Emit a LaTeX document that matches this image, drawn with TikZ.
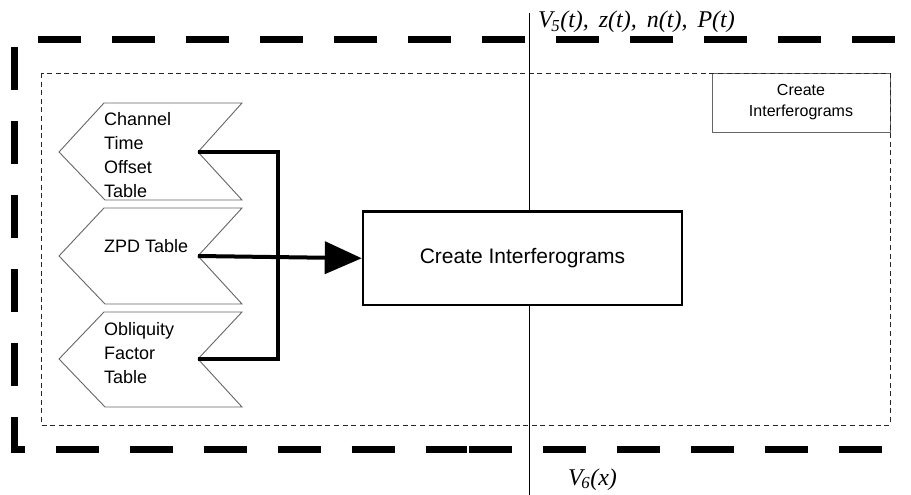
\documentclass[tikz,border=0pt]{standalone}
\usepackage{fontspec}
\setmainfont{Liberation Sans}
\newfontfamily\tnr{Liberation Serif}
\usetikzlibrary{arrows.meta}
\begin{document}
\begin{tikzpicture}[x=1pt,y=-1pt,
  thickdash/.style={line width=7pt, dash pattern=on 43pt off 31pt, line cap=butt, line join=miter},
  thindash/.style={line width=0.8pt, dash pattern=on 5pt off 3.6pt, draw=black!85},
  chev/.style={draw=black!60, line width=0.9pt, fill=white},
  chevtext/.style={anchor=north west, inner sep=0pt, align=left, font=\fontsize{18}{24}\selectfont},
  conn/.style={line width=4pt, line join=miter},
  mainbox/.style={draw, line width=2.5pt, fill=white, minimum width=319pt, minimum height=93.5pt, inner sep=0pt, font=\fontsize{21}{25}\selectfont},
  smallbox/.style={draw=black!60, line width=0.9pt, fill=white, minimum width=178pt, minimum height=59pt, inner sep=0pt, align=center, font=\fontsize{16}{21}\selectfont},
  lab/.style={inner sep=0pt, font=\tnr\itshape\fontsize{24}{24}\selectfont}
]
\useasboundingbox (0,0) rectangle (911,495);

% small box (top right)
\node[smallbox] (cibox) at (801,102.5) {Create\\Interferograms};
% inner dashed frame
\draw[thindash] (41,73) rectangle (890,425);
% vertical thin line
\coordinate (vtop) at (529,13);
\coordinate (vbot) at (529,495);
\draw[line width=0.9pt] (vtop) -- (vbot);

% chevrons
\draw[chev] (104,103) -- (59,152) -- (105,200) -- (242,200) -- (198,152) -- (242,103) -- cycle;
\coordinate (ctn) at (198,152);
\node[chevtext] (ct) at (104,112) {Channel\\Time\\Offset\\Table};

\draw[chev] (104,208) -- (59,256) -- (105,304) -- (242,304) -- (198,256) -- (242,208) -- cycle;
\coordinate (zpdn) at (198,256);
\node[chevtext] (zpd) at (104,239) {ZPD Table};

\draw[chev] (104,312) -- (59,359) -- (105,407) -- (242,407) -- (198,359) -- (242,312) -- cycle;
\coordinate (obn) at (198,359);
\node[chevtext] (ob) at (104,322) {Obliquity\\Factor\\Table};

% main box
\node[mainbox] (main) at (522.5,258.25) {Create Interferograms};

% connectors
\draw[conn] (ctn) -- (278,152) |- (obn);
\draw[conn, -{Triangle[length=37pt,width=32pt]}] (zpdn) -- (main.west);

% thick dashed outer frame
\draw[thickdash] (38,40) -- (895,40);
\draw[thickdash] (14,47) -- (14,449.5) -- (467,449.5);
\draw[thickdash] (469,449.5) -- (882,449.5);

% labels
\node[lab, anchor=base west] (v5) at (538,28) {V\kern-1.5pt\textsubscript{5}(t),\hspace{10pt}z(t),\hspace{10pt}n(t),\hspace{10pt}P(t)};
\node[lab, anchor=base west] (v6) at (568,485) {V\kern-1.5pt\textsubscript{6}(x)};
\end{tikzpicture}
\end{document}
